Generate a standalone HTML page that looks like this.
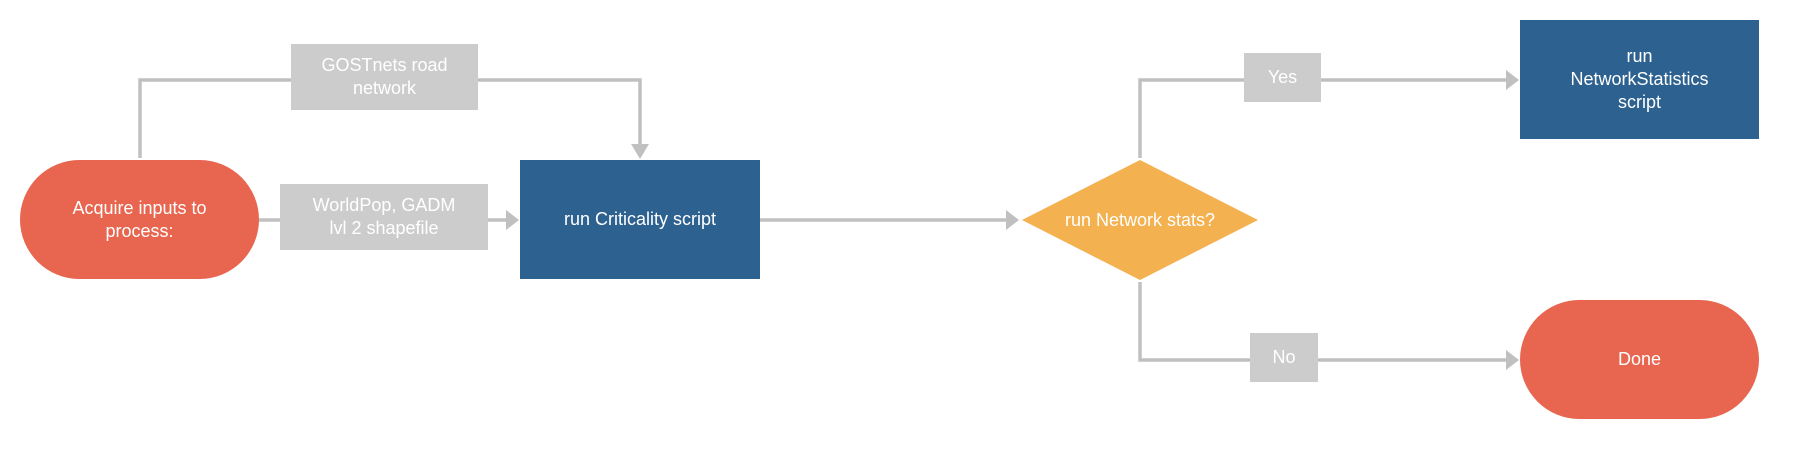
<!DOCTYPE html>
<html><head><meta charset="utf-8"><style>
body{margin:0;width:1816px;height:463px;background:#fff;overflow:hidden;position:relative;font-family:"Liberation Sans",Arial,sans-serif;}
.n{position:absolute;display:flex;align-items:center;justify-content:center;text-align:center;color:#fff;font-size:18px;line-height:23px;box-sizing:border-box;}
.g{background:#cccccc;}
svg{position:absolute;left:0;top:0;}
</style></head><body>
<svg width="1816" height="463">
<g stroke="#c0c0c0" stroke-width="3.5" fill="none">
<polyline points="140,158 140,80 640,80 640,146"/>
<line x1="259" y1="220" x2="506" y2="220"/>
<line x1="760" y1="220" x2="1006" y2="220"/>
<polyline points="1140,158 1140,80 1507,80"/>
<polyline points="1140,282 1140,360 1507,360"/>
</g>
<g fill="#c0c0c0">
<polygon points="631,144 649,144 640,159"/>
<polygon points="506,210 506,230 519,220"/>
<polygon points="1006,210 1006,230 1019,220"/>
<polygon points="1506,70 1506,90 1519,80"/>
<polygon points="1506,350 1506,370 1519,360"/>
</g>
<polygon points="1140,160 1258,220 1140,280 1022,220" fill="#f3b150"/>
</svg>
<div class="n g" style="left:291px;top:44px;width:187px;height:66px;">GOSTnets road<br>network</div>
<div class="n g" style="left:280px;top:184px;width:208px;height:66px;">WorldPop, GADM<br>lvl 2 shapefile</div>
<div class="n" style="left:20px;top:160px;width:239px;height:119px;background:#e8654f;border-radius:60px;">Acquire inputs to<br>process:</div>
<div class="n" style="left:520px;top:160px;width:240px;height:119px;background:#2d6190;">run Criticality script</div>
<div class="n" style="left:1022px;top:160px;width:236px;height:120px;">run Network stats?</div>
<div class="n g" style="left:1244px;top:53px;width:77px;height:49px;">Yes</div>
<div class="n g" style="left:1250px;top:333px;width:68px;height:49px;">No</div>
<div class="n" style="left:1520px;top:20px;width:239px;height:119px;background:#2d6190;">run<br>NetworkStatistics<br>script</div>
<div class="n" style="left:1520px;top:300px;width:239px;height:119px;background:#e8654f;border-radius:60px;">Done</div>
</body></html>
